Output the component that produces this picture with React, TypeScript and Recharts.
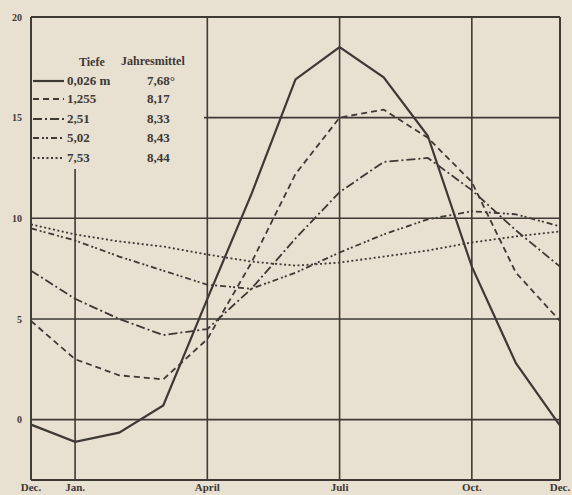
import React from "react";
import {
  LineChart,
  Line,
  XAxis,
  YAxis,
  CartesianGrid,
  ReferenceLine,
} from "recharts";

// months from Dec (0) to Dec (12)
const MONTHS = [0, 1, 2, 3, 4, 5, 6, 7, 8, 9, 10, 11, 12];
const MONTH_TICKS = [0, 1, 4, 7, 10, 12];
const MONTH_LABELS: Record<number, string> = { 0: "Dec.", 1: "Jan.", 4: "April", 7: "Juli", 10: "Oct.", 12: "Dec." };
const TEMP_TICKS = [0, 5, 10, 15, 20];

// temperature per depth
const D0026 = [-0.25, -1.1, -0.65, 0.7, 6.0, 11.2, 16.9, 18.5, 17.0, 14.1, 7.6, 2.8, -0.3];
const D1255 = [4.9, 3.0, 2.2, 2.0, 4.0, 7.8, 12.2, 15.0, 15.4, 14.0, 11.8, 7.3, 4.9];
const D251 = [7.4, 6.0, 5.0, 4.2, 4.5, 6.5, 9.0, 11.3, 12.8, 13.0, 11.4, 9.4, 7.6];
const D502 = [9.5, 8.9, 8.1, 7.4, 6.7, 6.5, 7.3, 8.3, 9.2, 9.95, 10.35, 10.2, 9.6];
const D753 = [9.7, 9.2, 8.85, 8.6, 8.2, 7.85, 7.65, 7.8, 8.1, 8.4, 8.8, 9.1, 9.35];

const DEPTHS = ["0,026 m", "1,255", "2,51", "5,02", "7,53"];
const MEANS = ["7,68°", "8,17", "8,33", "8,43", "8,44"];
const DASHES = ["", "6 4", "9 3 2 3", "6 3 2 2 2 3", "2 2.5"];
const KEYS = ["d0", "d1", "d2", "d3", "d4"];

const PAPER = "#e8e0d1";
const INK = "#3e3935";
const FONT = "'Liberation Serif', 'DejaVu Serif', serif";

const data = MONTHS.map((m, i) => ({
  m,
  d0: D0026[i],
  d1: D1255[i],
  d2: D251[i],
  d3: D502[i],
  d4: D753[i],
}));

const ROW_TOPS = [55, 73, 93, 112, 132];

// key box sits over the top-left corner of the plot, hiding the grid there
const LegendBox = () => (
  <div style={{ position: "absolute", left: 32, top: 18, width: 172, height: 151, background: PAPER, fontFamily: FONT, fontWeight: 700, fontSize: 13, lineHeight: "15px", color: INK, whiteSpace: "nowrap" }}>
    <div style={{ position: "absolute", left: 47, top: 37, fontSize: 12 }}>Tiefe</div>
    <div style={{ position: "absolute", left: 89, top: 36, fontSize: 12 }}>Jahresmittel</div>
    {DEPTHS.map((d, i) => {
      const top = ROW_TOPS[i];
      return (
        <React.Fragment key={d}>
          <svg style={{ position: "absolute", left: 1, top: top + 4 }} width={32} height={8}>
            <line x1={0} y1={4} x2={31} y2={4} stroke={INK} strokeWidth={i === 0 ? 2.2 : 1.8} strokeDasharray={DASHES[i]} />
          </svg>
          <div style={{ position: "absolute", left: 35, top }}>{d}</div>
          <div style={{ position: "absolute", left: 115, top }}>{MEANS[i]}</div>
        </React.Fragment>
      );
    })}
  </div>
);

export default function App() {
  return (
    <div style={{ position: "absolute", left: 0, top: 0, width: 572, height: 495, background: PAPER }}>
      <LineChart width={572} height={495} data={data} margin={{ top: 17, right: 0, bottom: 0, left: 0 }}>
        <CartesianGrid yAxisId="l" stroke={INK} strokeWidth={1.6} />
        <XAxis
          type="number"
          dataKey="m"
          domain={[0, 12]}
          ticks={MONTH_TICKS}
          tickFormatter={(v: number) => MONTH_LABELS[v]}
          tick={{ fontSize: 11, fill: INK, fontFamily: FONT, fontWeight: 700, dy: -3 }}
          axisLine={{ stroke: INK, strokeWidth: 1.8 }}
          tickLine={false}
          tickMargin={0}
          height={15}
          interval={0}
        />
        <YAxis
          yAxisId="l"
          domain={[-3, 20]}
          ticks={TEMP_TICKS}
          tick={{ fontSize: 10, fill: INK, fontFamily: FONT, fontWeight: 700 }}
          axisLine={{ stroke: INK, strokeWidth: 1.8 }}
          tickLine={false}
          tickMargin={3}
          width={31}
          interval={0}
        />
        <YAxis
          yAxisId="r"
          orientation="right"
          domain={[-3, 20]}
          ticks={TEMP_TICKS}
          tick={{ fontSize: 10, fill: INK, fontFamily: FONT, fontWeight: 700, textAnchor: "start" }}
          axisLine={{ stroke: INK, strokeWidth: 1.8 }}
          tickLine={false}
          tickMargin={2}
          width={12}
          interval={0}
        />
        <ReferenceLine yAxisId="l" y={20} stroke={INK} strokeWidth={1.8} />
        {KEYS.map((k, i) => (
          <Line
            key={k}
            yAxisId="l"
            type="linear"
            dataKey={k}
            stroke={INK}
            strokeWidth={i === 0 ? 2.2 : 1.8}
            strokeDasharray={DASHES[i]}
            dot={false}
            activeDot={false}
            isAnimationActive={false}
          />
        ))}
      </LineChart>
      <LegendBox />
    </div>
  );
}
